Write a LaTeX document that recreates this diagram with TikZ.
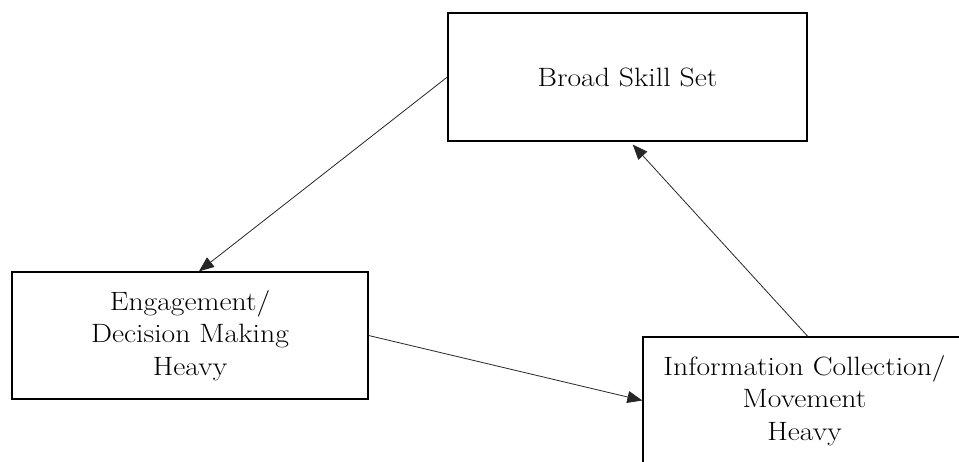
\documentclass[tikz,border=0pt]{standalone}
\usepackage{fontspec}
\setmainfont{Latin Modern Roman}[FakeStretch=1.12]
\usetikzlibrary{arrows.meta,calc}
\begin{document}
\begin{tikzpicture}[x=1pt,y=-1pt,
  box/.style={draw=black,line width=1.3pt,rectangle,inner sep=0pt,align=center,
    font=\fontsize{26.5}{32.5}\selectfont},
  conn/.style={draw=black!85,line width=0.8pt,-{Triangle[length=15pt,width=12pt]}}]
\useasboundingbox (0,0) rectangle (959,461);
\clip (0,0) rectangle (959,461);
\node[box,minimum width=359pt,minimum height=128pt] (b1) at (627.5,77) {Broad Skill Set};
\node[box,minimum width=356pt,minimum height=127pt] (b2) at (190,335.5) {Engagement/\\Decision Making\\Heavy};
\node[box,minimum width=323pt,minimum height=127pt] (b3) at (804.5,400.5) {Information Collection/\\Movement\\Heavy};
\draw[conn] (b1.west) -- ($(b2.north west)!0.525!(b2.north east)$);
\draw[conn] (b2.east) -- (b3.west);
\draw[conn,shorten >=4pt] ($(b3.north west)!0.51!(b3.north east)$) -- ($(b1.south west)!0.507!(b1.south east)$);
\end{tikzpicture}
\end{document}
